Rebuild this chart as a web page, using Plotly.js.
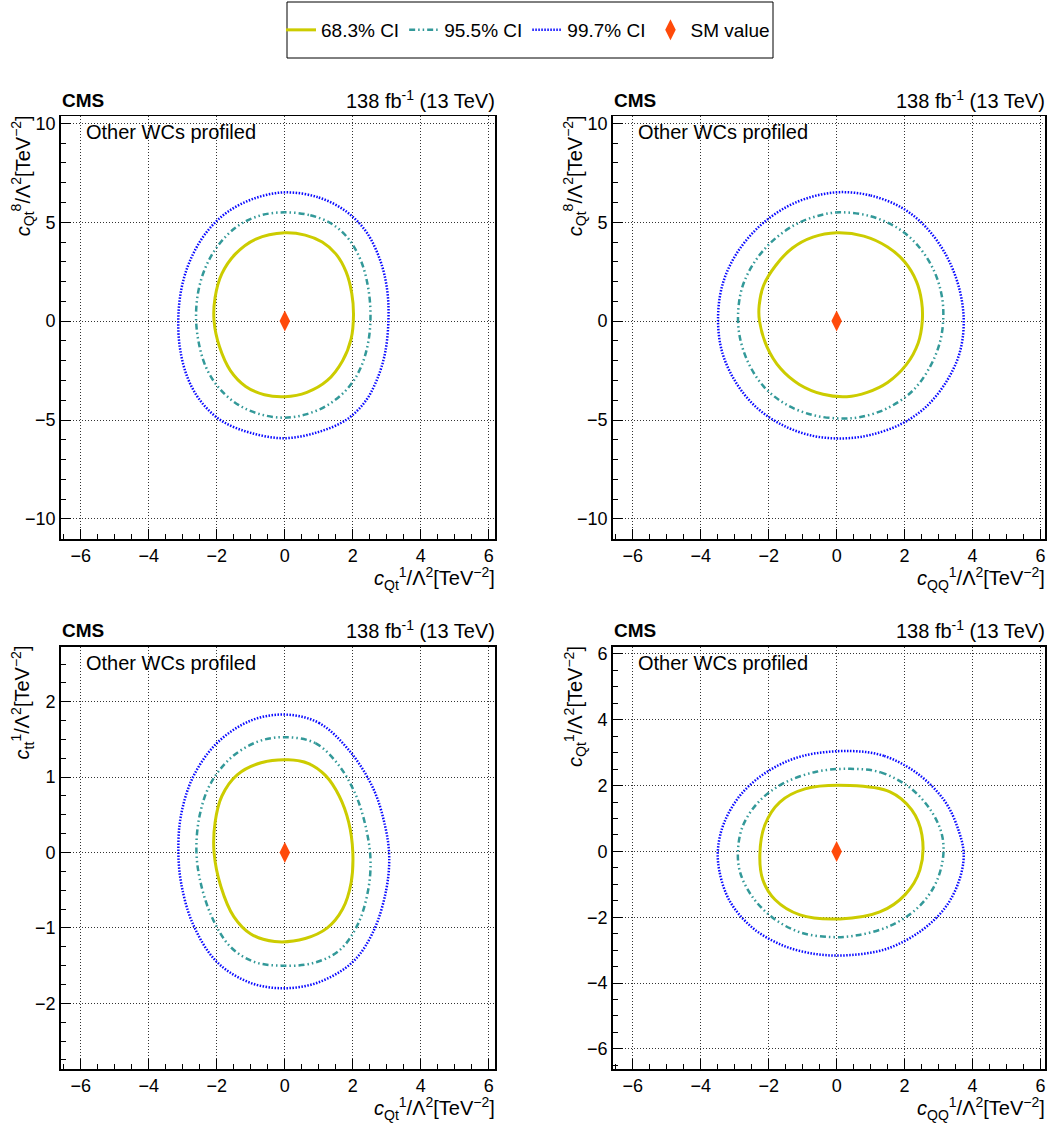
<!DOCTYPE html>
<html><head><meta charset="utf-8">
<script src="https://cdn.plot.ly/plotly-3.0.1.min.js"></script>
<style>html,body{margin:0;padding:0;background:#fff}</style>
</head><body><div id="chart" style="width:1053px;height:1124px"></div>
<script>
// ---------------- data ----------------
const legendNames = ["68.3% CI", "95.5% CI", "99.7% CI", "SM value"];
const smX = [0], smY = [0];

// Panel 1: x = c_Qt^1, y = c_Qt^8
const p1_68_x = [0,0.6,1.1,1.5,1.8,1.97,2.02,1.95,1.7,1.25,0.65,0,-0.6,-1.15,-1.6,-1.92,-2.08,-2.05,-1.85,-1.45,-0.85,0];
const p1_68_y = [4.47,4.35,4.0,3.4,2.5,1.4,0.3,-0.9,-2.0,-3.0,-3.6,-3.82,-3.72,-3.3,-2.5,-1.3,0.0,1.2,2.4,3.4,4.15,4.47];
const p1_95_x = [0,0.75,1.4,1.9,2.25,2.45,2.52,2.45,2.22,1.85,1.3,0.65,0,-0.7,-1.35,-1.9,-2.3,-2.53,-2.61,-2.52,-2.27,-1.88,-1.35,-0.7,0];
const p1_95_y = [5.5,5.35,4.9,4.1,3.0,1.7,0.3,-1.1,-2.4,-3.4,-4.2,-4.7,-4.88,-4.72,-4.25,-3.45,-2.4,-1.1,0.3,1.7,2.95,4.0,4.85,5.35,5.5];
const p1_99_x = [0,1.0,1.8,2.4,2.8,3.0,3.05,2.95,2.7,2.35,1.8,1.0,0,-1.0,-1.85,-2.45,-2.85,-3.08,-3.13,-3.02,-2.75,-2.3,-1.7,-0.9,0];
const p1_99_y = [6.51,6.25,5.55,4.5,3.1,1.7,0.2,-1.6,-3.0,-4.1,-5.0,-5.6,-5.92,-5.65,-5.05,-4.1,-2.9,-1.4,0.23,1.8,3.2,4.5,5.5,6.2,6.51];

// Panel 2: x = c_QQ^1, y = c_Qt^8
const p2_68_x = [0,0.8,1.5,2.0,2.35,2.5,2.52,2.4,2.05,1.5,0.9,0.3,-0.4,-1.1,-1.65,-2.05,-2.27,-2.28,-2.15,-1.8,-1.3,-0.7,0];
const p2_68_y = [4.47,4.3,3.75,3.0,2.0,1.0,0.0,-1.1,-2.2,-3.1,-3.6,-3.82,-3.7,-3.2,-2.4,-1.3,0.0,0.8,1.8,2.8,3.7,4.25,4.47];
const p2_95_x = [0.1,1.0,1.8,2.4,2.85,3.08,3.14,3.05,2.75,2.25,1.5,0.7,0.1,-0.7,-1.5,-2.15,-2.6,-2.85,-2.9,-2.78,-2.45,-1.95,-1.3,-0.6,0.1];
const p2_95_y = [5.5,5.3,4.7,3.8,2.6,1.4,0.3,-1.0,-2.3,-3.5,-4.4,-4.85,-4.92,-4.75,-4.2,-3.3,-2.1,-0.8,0.4,1.7,2.9,3.95,4.8,5.3,5.5];
const p2_99_x = [0.1,1.0,1.9,2.6,3.2,3.6,3.74,3.62,3.25,2.65,1.9,1.0,0.2,-0.7,-1.6,-2.4,-3.0,-3.38,-3.49,-3.35,-2.95,-2.3,-1.5,-0.7,0.1];
const p2_99_y = [6.52,6.35,5.75,4.8,3.4,1.7,0.0,-1.6,-3.0,-4.3,-5.2,-5.75,-5.93,-5.8,-5.25,-4.3,-3.0,-1.5,0.2,1.9,3.4,4.75,5.75,6.3,6.52];

// Panel 3: x = c_Qt^1, y = c_tt^1
const p3_68_x = [0.1,0.7,1.2,1.6,1.88,2.0,1.95,1.7,1.25,0.6,-0.3,-1.0,-1.5,-1.88,-2.08,-2.05,-1.85,-1.4,-0.7,0.1];
const p3_68_y = [1.23,1.18,1.02,0.75,0.4,0.0,-0.4,-0.75,-1.0,-1.14,-1.18,-1.08,-0.85,-0.45,0.0,0.4,0.75,1.03,1.19,1.23];
const p3_95_x = [0,0.9,1.6,2.1,2.4,2.52,2.45,2.15,1.6,0.8,-0.1,-0.9,-1.6,-2.15,-2.5,-2.6,-2.5,-2.2,-1.6,-0.8,0];
const p3_95_y = [1.53,1.45,1.15,0.75,0.3,-0.1,-0.5,-0.95,-1.3,-1.47,-1.5,-1.45,-1.25,-0.85,-0.35,0.05,0.5,0.9,1.25,1.47,1.53];
const p3_99_x = [0,1.0,1.9,2.6,2.95,3.07,2.98,2.6,2.0,1.0,0,-1.0,-2.0,-2.7,-3.05,-3.13,-3.05,-2.7,-2.0,-1.0,0];
const p3_99_y = [1.83,1.72,1.35,0.85,0.35,-0.05,-0.5,-1.05,-1.45,-1.72,-1.8,-1.73,-1.45,-0.95,-0.4,0.05,0.5,1.0,1.45,1.75,1.83];

// Panel 4: x = c_QQ^1, y = c_Qt^1
const p4_68_x = [0.39,1.57,2.21,2.51,2.45,2.01,1.27,0.1,-1.08,-1.81,-2.17,-2.26,-2.11,-1.67,-0.93,0.39];
const p4_68_y = [2.0,1.81,1.26,0.5,-0.56,-1.32,-1.84,-2.05,-1.93,-1.47,-0.87,-0.11,0.81,1.5,1.9,2.0];
const p4_95_x = [0.4,1.3,2.2,2.8,3.1,3.13,2.9,2.4,1.6,0.6,-0.2,-1.1,-1.9,-2.5,-2.85,-2.9,-2.75,-2.3,-1.6,-0.6,0.4];
const p4_95_y = [2.51,2.4,1.9,1.2,0.5,-0.2,-1.0,-1.7,-2.25,-2.55,-2.6,-2.45,-2.0,-1.35,-0.6,0.1,0.8,1.5,2.05,2.42,2.51];
const p4_99_x = [0.4,1.4,2.4,3.2,3.6,3.74,3.6,3.2,2.5,1.5,0.4,-0.6,-1.6,-2.5,-3.15,-3.45,-3.49,-3.3,-2.8,-2.0,-1.0,0.4];
const p4_99_y = [3.05,2.9,2.35,1.5,0.6,-0.1,-0.9,-1.7,-2.4,-2.95,-3.15,-3.12,-2.85,-2.3,-1.5,-0.6,0.1,0.9,1.75,2.45,2.9,3.05];

const xTitles = ["<i>c</i><sub>Qt</sub><sup>1</sup>/Λ<sup>2</sup>[TeV<sup>−2</sup>]",
                 "<i>c</i><sub>QQ</sub><sup>1</sup>/Λ<sup>2</sup>[TeV<sup>−2</sup>]",
                 "<i>c</i><sub>Qt</sub><sup>1</sup>/Λ<sup>2</sup>[TeV<sup>−2</sup>]",
                 "<i>c</i><sub>QQ</sub><sup>1</sup>/Λ<sup>2</sup>[TeV<sup>−2</sup>]"];
const yTitles = ["<i>c</i><sub>Qt</sub><sup>8</sup>/Λ<sup>2</sup>[TeV<sup>−2</sup>]",
                 "<i>c</i><sub>Qt</sub><sup>8</sup>/Λ<sup>2</sup>[TeV<sup>−2</sup>]",
                 "<i>c</i><sub>tt</sub><sup>1</sup>/Λ<sup>2</sup>[TeV<sup>−2</sup>]",
                 "<i>c</i><sub>Qt</sub><sup>1</sup>/Λ<sup>2</sup>[TeV<sup>−2</sup>]"];
const cmsLabel = "CMS";
const lumiLabel = "138 fb<sup>-1</sup> (13 TeV)";
const noteLabel = "Other WCs profiled";

// ---------------- layout helpers ----------------
const W = 1053, H = 1124;
const FONT = "Liberation Sans, Arial, Helvetica, sans-serif";
const fx = p => p / W;
const fy = p => 1 - p / H;

const panels = [
  {c68:[p1_68_x,p1_68_y], c95:[p1_95_x,p1_95_y], c99:[p1_99_x,p1_99_y], px:[60.7,495.3], py:[116,539.3], xr:[-6.59,6.19], yr:[-11.03,10.37], ydt:5, ymin:1},
  {c68:[p2_68_x,p2_68_y], c95:[p2_95_x,p2_95_y], c99:[p2_99_x,p2_99_y], px:[612.7,1045.3], py:[116,539.3], xr:[-6.59,6.14], yr:[-11.03,10.37], ydt:5, ymin:1},
  {c68:[p3_68_x,p3_68_y], c95:[p3_95_x,p3_95_y], c99:[p3_99_x,p3_99_y], px:[60.7,495.3], py:[646.7,1069.3], xr:[-6.59,6.19], yr:[-2.875,2.73], ydt:1, ymin:0.25},
  {c68:[p4_68_x,p4_68_y], c95:[p4_95_x,p4_95_y], c99:[p4_99_x,p4_99_y], px:[612.7,1045.3], py:[646.7,1069.3], xr:[-6.59,6.14], yr:[-6.62,6.22], ydt:2, ymin:0.5}
];

const C68 = "#cccc00", C95 = "#339999", C99 = "#0a0aff", CSM = "#ff4a0a";
const traces = [];
const layout = {
  width: W, height: H, margin: {l:0, r:0, t:0, b:0},
  paper_bgcolor: "#fff", plot_bgcolor: "#fff",
  font: {family: FONT, size: 18, color: "#000"},
  showlegend: true,
  legend: {orientation: "h", x: fx(528), xanchor: "center", y: fy(30), yanchor: "middle",
           font: {family: FONT, size: 19, color: "#000"}, bgcolor: "rgba(0,0,0,0)",
           borderwidth: 0, itemwidth: 30, traceorder: "normal"},
  annotations: [],
  shapes: [{type: "rect", xref: "paper", yref: "paper", x0: fx(287), x1: fx(773), y0: fy(58), y1: fy(2),
            line: {color: "#000", width: 1}, fillcolor: "rgba(0,0,0,0)"}]
};

panels.forEach((p, i) => {
  const n = i === 0 ? "" : String(i + 1);
  const xa = "x" + n, ya = "y" + n;
  const first = i === 0;
  traces.push({type: "scatter", mode: "lines", x: p.c68[0], y: p.c68[1], xaxis: xa, yaxis: ya,
    name: legendNames[0], showlegend: first, line: {color: C68, width: 3, shape: "spline", smoothing: 1.0}});
  traces.push({type: "scatter", mode: "lines", x: p.c95[0], y: p.c95[1], xaxis: xa, yaxis: ya,
    name: legendNames[1], showlegend: first, line: {color: C95, width: 2.5, dash: "6px,3px,1.5px,3px,1.5px,3px", shape: "spline", smoothing: 1.0}});
  traces.push({type: "scatter", mode: "lines", x: p.c99[0], y: p.c99[1], xaxis: xa, yaxis: ya,
    name: legendNames[2], showlegend: first, line: {color: C99, width: 2.5, dash: "1.5px,1.5px", shape: "spline", smoothing: 1.0}});
  traces.push({type: "scatter", mode: "markers", x: smX, y: smY, xaxis: xa, yaxis: ya,
    name: legendNames[3], showlegend: first, marker: {symbol: "diamond-tall", size: 15, color: CSM, line: {width: 0}}});

  const common = {ticks: "inside", ticklen: 10, tickwidth: 1, tickcolor: "#000",
    showline: true, linecolor: "#000", linewidth: 1.5, mirror: true,
    showgrid: true, gridcolor: "#333", griddash: "1px,2px", gridwidth: 1, zeroline: false,
    tickfont: {family: FONT, size: 18, color: "#000"}, fixedrange: true, tickmode: "linear", tick0: 0};
  layout["xaxis" + n] = Object.assign({}, common, {
    domain: [fx(p.px[0]), fx(p.px[1])], range: p.xr, anchor: ya, dtick: 2,
    minor: {dtick: 0.5, ticklen: 5, tickcolor: "#000", ticks: "inside", showgrid: false}});
  layout["yaxis" + n] = Object.assign({}, common, {
    domain: [fy(p.py[1]), fy(p.py[0])], range: p.yr, anchor: xa, dtick: p.ydt,
    minor: {dtick: p.ymin, ticklen: 5, tickcolor: "#000", ticks: "inside", showgrid: false}});

  const L = p.px[0], R = p.px[1], T = p.py[0], B = p.py[1];
  const ann = (text, x, y, xanchor, yanchor, size, extra) => layout.annotations.push(Object.assign({
    text, xref: "paper", yref: "paper", x: fx(x), y: fy(y), xanchor, yanchor, showarrow: false,
    font: {family: FONT, size: size, color: "#000"}}, extra || {}));
  ann("<b>" + cmsLabel + "</b>", L - 1, T - 16, "left", "middle", 19);
  ann(lumiLabel, R + 2, T - 17, "right", "middle", 20);
  ann(noteLabel, L + 23, T + 16, "left", "middle", 20);
  ann(xTitles[i], R + 2, B + 23, "right", "top", 20);
  ann(yTitles[i], L - 38, T - 3, "center", "top", 20, {textangle: -90});
});

Plotly.newPlot("chart", traces, layout, {staticPlot: true, displayModeBar: false});
</script></body></html>
